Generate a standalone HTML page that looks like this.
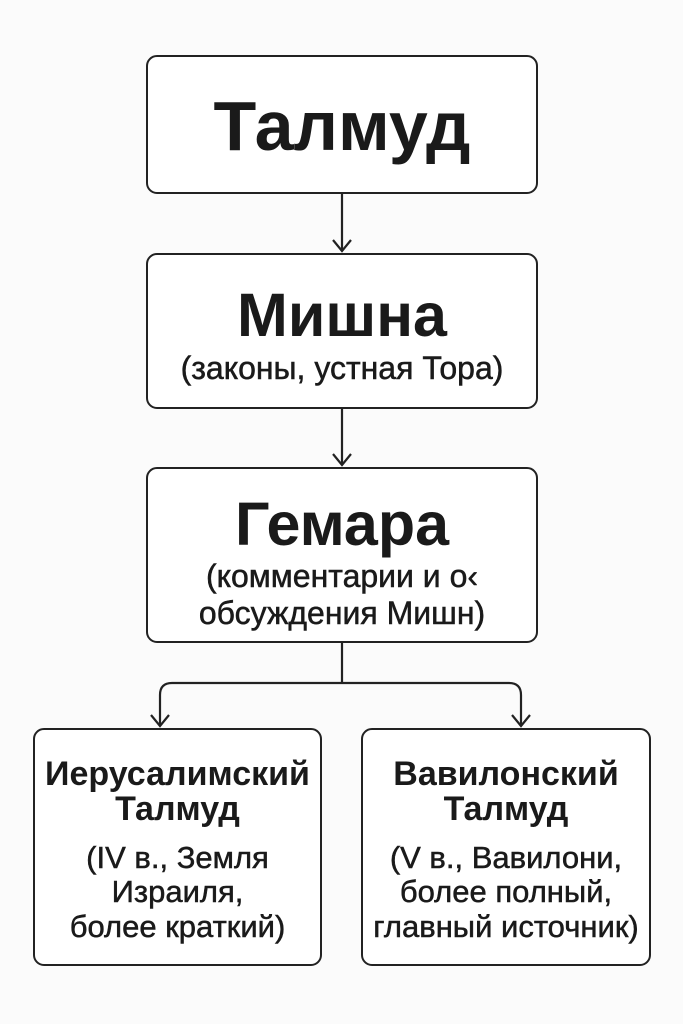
<!DOCTYPE html>
<html><head><meta charset="utf-8"><style>
html,body{margin:0;padding:0;background:#fbfbfb;}
body{width:683px;height:1024px;position:relative;overflow:hidden;font-family:"Liberation Sans","DejaVu Sans",sans-serif;color:#1a1a1a;}
.box{position:absolute;border:2.5px solid #222;border-radius:11px;background:#fff;box-sizing:border-box;}
.t{position:absolute;left:-20px;right:-20px;text-align:center;white-space:nowrap;line-height:1.15;}
.r{-webkit-text-stroke:0.5px #1a1a1a;}
</style></head><body>
<svg width="683" height="1024" style="position:absolute;left:0;top:0" fill="none" stroke="#222" stroke-width="2.2">
<line x1="342" y1="194" x2="342" y2="251"/><polyline points="333,240 342,251 351,240"/>
<line x1="342" y1="409" x2="342" y2="465"/><polyline points="333,454 342,465 351,454"/>
<path d="M342 643 V683 M172 683 H509 M172 683 Q160 683 160 695 V726 M509 683 Q521 683 521 695 V726"/>
<polyline points="151,715 160,726 169,715"/><polyline points="512,715 521,726 530,715"/>
</svg>
<div class="box" style="left:146px;top:55px;width:392px;height:139px;">
<div class="t" style="top:29px;font-size:70px;font-weight:bold;">Талмуд</div></div>
<div class="box" style="left:146px;top:253px;width:392px;height:156px;">
<div class="t" style="top:25px;font-size:61px;font-weight:bold;">Мишна</div>
<div class="t r" style="top:95px;font-size:32px;">(законы, устная Тора)</div></div>
<div class="box" style="left:146px;top:467px;width:392px;height:176px;">
<div class="t" style="top:20px;font-size:61px;font-weight:bold;">Гемара</div>
<div class="t r" style="top:89px;font-size:32px;">(комментарии и о‹</div>
<div class="t r" style="top:126px;font-size:32px;">обсуждения Мишн)</div></div>
<div class="box" style="left:33px;top:728px;width:289px;height:238px;">
<div class="t" style="top:25px;font-size:34px;font-weight:bold;">Иерусалимский</div>
<div class="t" style="top:60px;font-size:34px;font-weight:bold;">Талмуд</div>
<div class="t r" style="top:110px;font-size:31px;">(IV в., Земля</div>
<div class="t r" style="top:144px;font-size:31px;">Израиля,</div>
<div class="t r" style="top:179px;font-size:31px;">более краткий)</div></div>
<div class="box" style="left:361px;top:728px;width:290px;height:238px;">
<div class="t" style="top:25px;font-size:34px;font-weight:bold;">Вавилонский</div>
<div class="t" style="top:60px;font-size:34px;font-weight:bold;">Талмуд</div>
<div class="t r" style="top:110px;font-size:31px;">(V в., Вавилони,</div>
<div class="t r" style="top:144px;font-size:31px;">более полный,</div>
<div class="t r" style="top:179px;font-size:31px;">главный источник)</div></div>
</body></html>
